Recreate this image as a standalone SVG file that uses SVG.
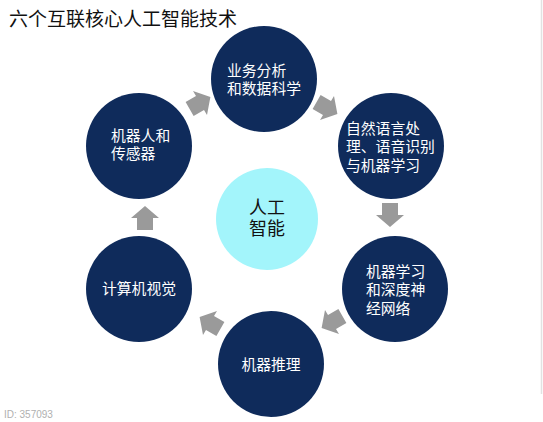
<svg xmlns="http://www.w3.org/2000/svg" width="543" height="422" viewBox="0 0 543 422">
  <defs>
    <style>
      .node { fill: #0f2b5b; }
      .hub { fill: #a3f5fb; }
      .lbl { font-family: "Noto Sans CJK SC", "Noto Sans", sans-serif; font-size: 14.8px; fill: #ffffff; }
      .hublbl { font-family: "Noto Sans CJK SC", "Noto Sans", sans-serif; font-size: 18px; fill: #111111; }
      .title { font-family: "Noto Sans CJK SC", "Noto Sans", sans-serif; font-size: 19px; fill: #111111; }
      .arrow { fill: #9a9a9a; }
    </style>
    <path id="arr" d="M-12,-8 L0,-8 L0,-14 L12,0 L0,14 L0,8 L-12,8 Z"/>
  </defs>
  <rect width="543" height="422" fill="#ffffff"/>
  <line x1="541.5" y1="0" x2="541.5" y2="394" stroke="#e2e2e2" stroke-width="1.5"/>
  <text class="title" x="9" y="26">六个互联核心人工智能技术</text>

  <g id="connectors">
    <use href="#arr" class="arrow" transform="translate(200,103) rotate(-30)"/>
    <use href="#arr" class="arrow" transform="translate(327,108) rotate(30)"/>
    <use href="#arr" class="arrow" transform="translate(390,215) rotate(90)"/>
    <use href="#arr" class="arrow" transform="translate(332,322) rotate(150)"/>
    <use href="#arr" class="arrow" transform="translate(210,323) rotate(210)"/>
    <use href="#arr" class="arrow" transform="translate(145,218) rotate(270)"/>
  </g>

  <g id="hub">
    <circle class="hub" cx="267" cy="219" r="51"/>
    <text class="hublbl" text-anchor="middle"><tspan x="267" y="214">人工</tspan><tspan x="267" y="235">智能</tspan></text>
  </g>

  <g id="node-business">
    <circle class="node" cx="264" cy="79" r="53"/>
    <text class="lbl"><tspan x="227" y="75.5">业务分析</tspan><tspan x="227" y="94">和数据科学</tspan></text>
  </g>

  <g id="node-nlp">
    <circle class="node" cx="391" cy="146" r="53"/>
    <text class="lbl"><tspan x="346" y="133.5">自然语言处</tspan><tspan x="346" y="152">理、语音识别</tspan><tspan x="346" y="170.5">与机器学习</tspan></text>
  </g>

  <g id="node-ml">
    <circle class="node" cx="395" cy="289" r="53"/>
    <text class="lbl"><tspan x="366" y="276.5">机器学习</tspan><tspan x="366" y="295">和深度神</tspan><tspan x="366" y="313.5">经网络</tspan></text>
  </g>

  <g id="node-reasoning">
    <circle class="node" cx="271" cy="364" r="53"/>
    <text class="lbl" text-anchor="middle" x="271" y="370">机器推理</text>
  </g>

  <g id="node-vision">
    <circle class="node" cx="139" cy="289" r="53"/>
    <text class="lbl" text-anchor="middle" x="139" y="294">计算机视觉</text>
  </g>

  <g id="node-robots">
    <circle class="node" cx="139" cy="146" r="53"/>
    <text class="lbl"><tspan x="111" y="140.5">机器人和</tspan><tspan x="111" y="159">传感器</tspan></text>
  </g>

  <text x="4" y="418" font-family="Liberation Sans, sans-serif" font-size="10" fill="#b0b0b0">ID: 357093</text>
</svg>
